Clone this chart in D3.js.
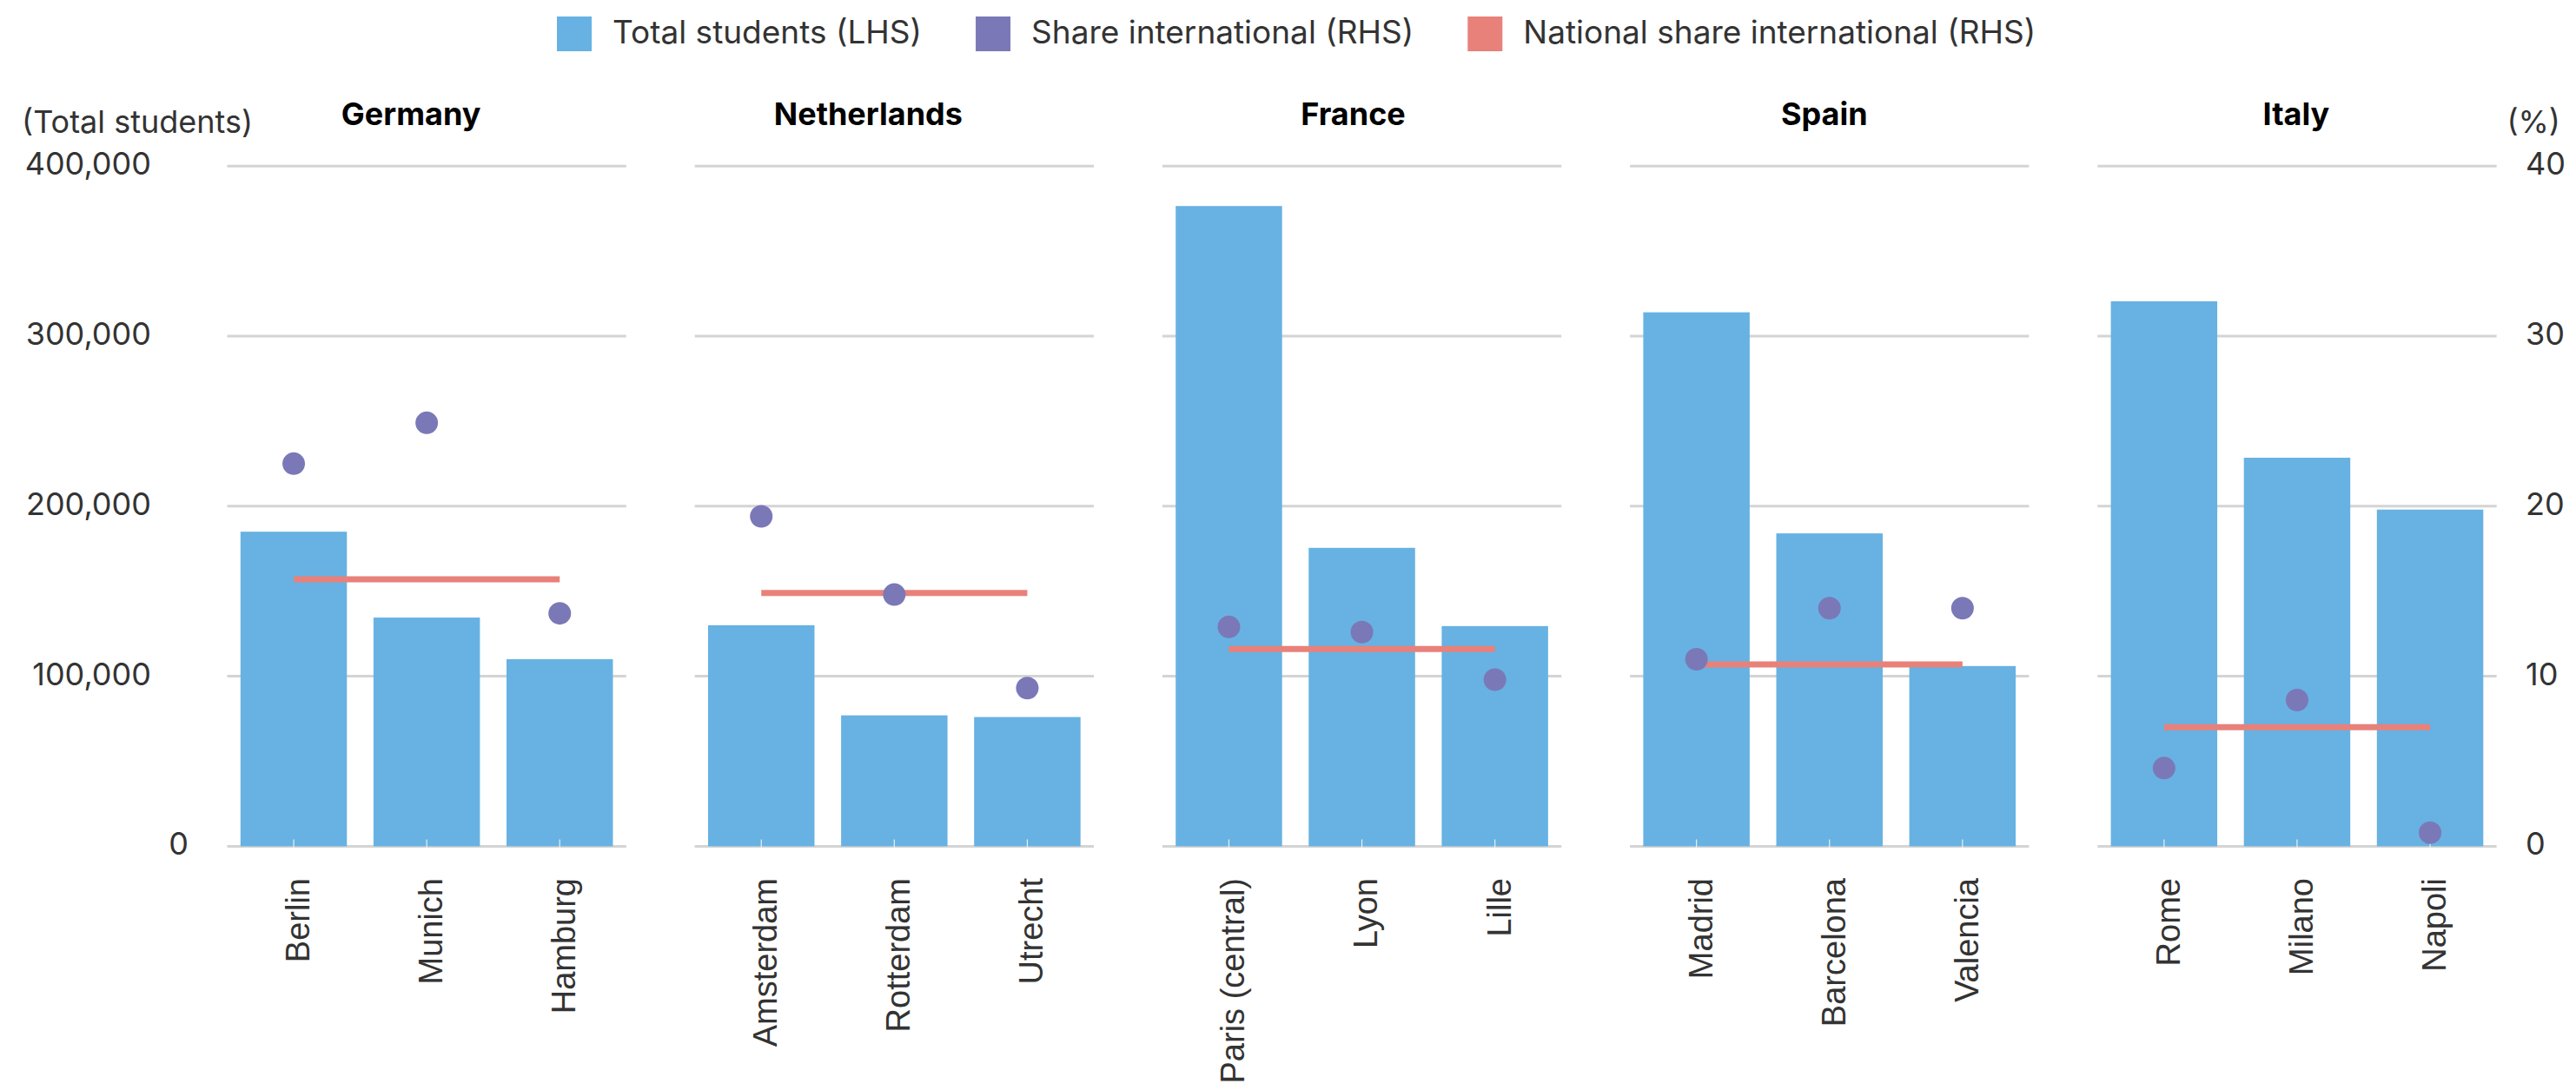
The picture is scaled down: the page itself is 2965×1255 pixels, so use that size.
<!DOCTYPE html>
<html>
<head>
<meta charset="utf-8">
<script src="https://cdn.jsdelivr.net/npm/d3@7"></script>
<style>
  html, body { margin: 0; padding: 0; background: #ffffff; }
  svg { display: block; }
  text { font-family: Inter, "Open Sans", sans-serif; }
  text.city { font-family: "Liberation Sans", Arial, sans-serif; }
</style>
</head>
<body>
<svg id="chart" width="2965" height="1255"></svg>
<script>
// ---------- data ----------
const countries = ["Germany", "Netherlands", "France", "Spain", "Italy"];
const cities = [
  ["Berlin", "Munich", "Hamburg"],
  ["Amsterdam", "Rotterdam", "Utrecht"],
  ["Paris (central)", "Lyon", "Lille"],
  ["Madrid", "Barcelona", "Valencia"],
  ["Rome", "Milano", "Napoli"]
];
const totalStudents = [
  [185000, 134500, 110000],
  [130000, 77000, 76000],
  [376500, 175500, 129500],
  [314000, 184000, 106000],
  [320500, 228500, 198000]
];
const shareInternational = [
  [22.5, 24.9, 13.7],
  [19.4, 14.8, 9.3],
  [12.9, 12.6, 9.8],
  [11.0, 14.0, 14.0],
  [4.6, 8.6, 0.8]
];
const nationalShare = [15.7, 14.9, 11.6, 10.7, 7.0];
const leftTicks = [0, 100000, 200000, 300000, 400000];
const rightTicks = [0, 10, 20, 30, 40];
const legendLabels = ["Total students (LHS)", "Share international (RHS)", "National share international (RHS)"];
const leftAxisTitle = "(Total students)";
const rightAxisTitle = "(%)";

// ---------- style / layout ----------
const COL_BAR = "#67b2e2";
const COL_DOT = "#7b78b8";
const COL_NAT = "#e8817a";
const COL_GRID = "#d4d4d4";
const COL_TEXT = "#333333";
const titleShift = [-18, -30, -10, -6, -1];

const svg = d3.select("#chart");

const yLeft = d3.scaleLinear().domain([0, 400000]).range([974.4, 191.2]);
const yRight = d3.scaleLinear().domain([0, 40]).range([974.4, 191.2]);

const xPanel = d3.scaleBand().domain(countries).range([261.5, 2873.6]).paddingInner(0.1466).paddingOuter(0);
const pw = xPanel.bandwidth();

// ---------- legend ----------
const legendColors = [COL_BAR, COL_DOT, COL_NAT];
const legend = svg.append("g");
let lx = 641;
legendLabels.forEach((lab, i) => {
  legend.append("rect").attr("x", lx).attr("y", 19).attr("width", 40).attr("height", 40).attr("fill", legendColors[i]);
  const t = legend.append("text").attr("x", lx + 64).attr("y", 50)
    .attr("font-size", 37).attr("fill", COL_TEXT).text(lab);
  const w = t.node().getComputedTextLength();
  lx = lx + 64 + w + 62;
});

// ---------- axis titles ----------
svg.append("text").attr("x", 25).attr("y", 153).attr("font-size", 36).attr("fill", COL_TEXT).text(leftAxisTitle);
svg.append("text").attr("x", 2947).attr("y", 153).attr("text-anchor", "end").attr("font-size", 36).attr("fill", COL_TEXT).text(rightAxisTitle);

// ---------- left tick labels ----------
const fmt = d3.format(",");
svg.append("g").selectAll("text").data(leftTicks).join("text")
  .attr("x", d => d === 0 ? 217 : 174)
  .attr("y", d => yLeft(d) + 10)
  .attr("text-anchor", "end")
  .attr("font-size", 36).attr("fill", COL_TEXT)
  .text(d => fmt(d));

// ---------- right tick labels ----------
svg.append("g").selectAll("text").data(rightTicks).join("text")
  .attr("x", 2907)
  .attr("y", d => yRight(d) + 10)
  .attr("text-anchor", "start")
  .attr("font-size", 36).attr("fill", COL_TEXT)
  .text(d => d);

// ---------- panels ----------
countries.forEach((country, ci) => {
  const g = svg.append("g").attr("transform", `translate(${xPanel(country)},0)`);
  const xCity = d3.scaleBand().domain(cities[ci]).range([0, pw]).paddingInner(0.2).paddingOuter(0.1);

  // gridlines
  g.append("g").selectAll("line").data(leftTicks).join("line")
    .attr("x1", 0).attr("x2", pw)
    .attr("y1", d => yLeft(d)).attr("y2", d => yLeft(d))
    .attr("stroke", COL_GRID).attr("stroke-width", 3);

  // title
  g.append("text").attr("x", pw / 2 + titleShift[ci]).attr("y", 143.5)
    .attr("text-anchor", "middle").attr("font-size", 36).attr("font-weight", 700)
    .attr("fill", "#000").text(country);

  const rows = cities[ci].map((c, k) => ({ city: c, total: totalStudents[ci][k], share: shareInternational[ci][k] }));

  // bars
  g.append("g").selectAll("rect").data(rows).join("rect")
    .attr("x", d => xCity(d.city))
    .attr("width", xCity.bandwidth())
    .attr("y", d => yLeft(d.total))
    .attr("height", d => yLeft(0) - yLeft(d.total))
    .attr("fill", COL_BAR);

  // small ticks at band centres
  g.append("g").selectAll("line").data(rows).join("line")
    .attr("x1", d => xCity(d.city) + xCity.bandwidth() / 2)
    .attr("x2", d => xCity(d.city) + xCity.bandwidth() / 2)
    .attr("y1", yLeft(0) - 8).attr("y2", yLeft(0) + 2)
    .attr("stroke", "#eeeeee").attr("stroke-width", 1.2);

  // national share line
  const first = cities[ci][0], last = cities[ci][cities[ci].length - 1];
  g.append("line")
    .attr("x1", xCity(first) + xCity.bandwidth() / 2)
    .attr("x2", xCity(last) + xCity.bandwidth() / 2)
    .attr("y1", yRight(nationalShare[ci])).attr("y2", yRight(nationalShare[ci]))
    .attr("stroke", COL_NAT).attr("stroke-width", 7);

  // dots
  g.append("g").selectAll("circle").data(rows).join("circle")
    .attr("cx", d => xCity(d.city) + xCity.bandwidth() / 2)
    .attr("cy", d => yRight(d.share))
    .attr("r", 13)
    .attr("fill", COL_DOT);

  // city labels
  g.append("g").selectAll("text").data(rows).join("text")
    .attr("class", "city")
    .attr("transform", d => `translate(${xCity(d.city) + xCity.bandwidth() / 2},1011) rotate(-90)`)
    .attr("dy", "0.47em")
    .attr("text-anchor", "end")
    .attr("font-size", 38).attr("fill", COL_TEXT)
    .text(d => d.city);
});
</script>
</body>
</html>
